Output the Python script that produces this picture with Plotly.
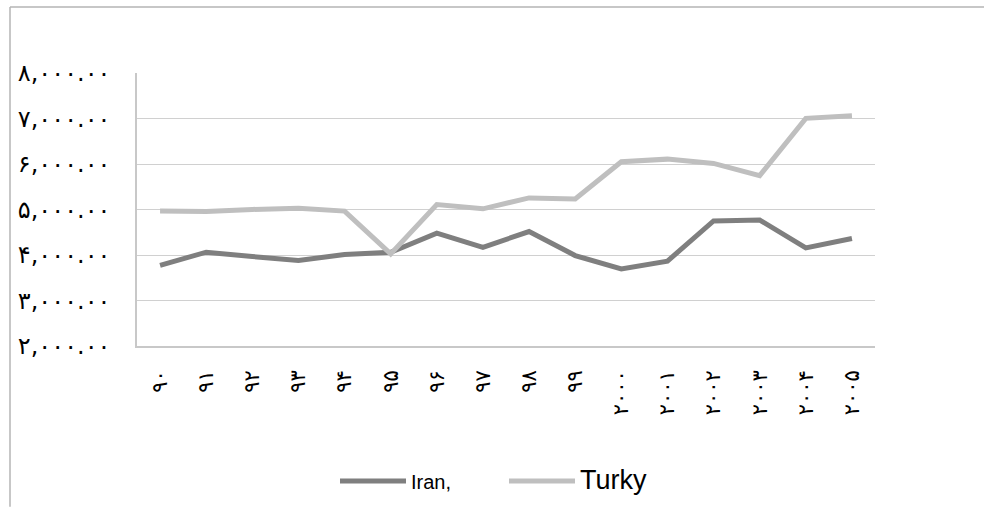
import plotly.graph_objects as go

categories = ["۹۰", "۹۱", "۹۲", "۹۳", "۹۴", "۹۵", "۹۶", "۹۷", "۹۸", "۹۹",
              "۲۰۰۰", "۲۰۰۱", "۲۰۰۲", "۲۰۰۳", "۲۰۰۴", "۲۰۰۵"]
iran = [3771, 4061, 3967, 3880, 4010, 4061, 4480, 4169, 4516, 3988,
        3692, 3865, 4748, 4769, 4155, 4364]
turky = [4965, 4957, 5001, 5030, 4965, 4025, 5109, 5015, 5254, 5232,
         6049, 6107, 6013, 5745, 7004, 7061]
y_tickvals = [2000, 3000, 4000, 5000, 6000, 7000, 8000]
y_ticktext = ["۲,۰۰۰.۰۰", "۳,۰۰۰.۰۰", "۴,۰۰۰.۰۰", "۵,۰۰۰.۰۰",
              "۶,۰۰۰.۰۰", "۷,۰۰۰.۰۰", "۸,۰۰۰.۰۰"]

fig = go.Figure()
fig.add_trace(go.Scatter(x=categories, y=iran, mode="lines",
                         name="<span style='font-size:20px'>Iran,</span>",
                         line=dict(color="#7f7f7f", width=5)))
fig.add_trace(go.Scatter(x=categories, y=turky, mode="lines",
                         name="<span style='font-size:27px'>Turky</span>",
                         line=dict(color="#bfbfbf", width=5)))

L, R, T, B = 137, 109, 73, 163
W, H = 984, 513
pw, ph = W - L - R, H - T - B

def px2paper_x(px):
    return (px - L) / pw

def px2paper_y(py):
    return (H - B - py) / ph

border = dict(color="#b5b5b5", width=1.5)
fig.add_shape(type="line", xref="paper", yref="paper",
              x0=px2paper_x(10), x1=px2paper_x(984), y0=px2paper_y(6), y1=px2paper_y(6), line=border)
fig.add_shape(type="line", xref="paper", yref="paper",
              x0=px2paper_x(10), x1=px2paper_x(10), y0=px2paper_y(6), y1=px2paper_y(513), line=border)

fig.update_layout(
    width=W, height=H,
    margin=dict(l=L, r=R, t=T, b=B),
    paper_bgcolor="white", plot_bgcolor="white",
    font=dict(family="Arial, Liberation Sans, DejaVu Sans", color="black"),
    showlegend=True,
    legend=dict(orientation="h", x=px2paper_x(335), xanchor="left", y=px2paper_y(487), yanchor="middle",
                font=dict(size=20, family="Arial, Liberation Sans"),
                itemwidth=66, entrywidth=88, entrywidthmode="pixels",
                bgcolor="rgba(0,0,0,0)"),
    xaxis=dict(type="category", tickangle=-90, showgrid=False,
               showline=True, linecolor="#c8c8c8", linewidth=1.5,
               ticks="", ticklabelstandoff=14,
               tickfont=dict(size=21, family="DejaVu Sans", color="black"),
               range=[-0.5, len(categories) - 0.5], fixedrange=True),
    yaxis=dict(range=[2000, 8000], tickvals=y_tickvals, ticktext=y_ticktext,
               showgrid=True, gridcolor="#d0d0d0", gridwidth=1.2,
               showline=True, linecolor="#c8c8c8", linewidth=1.5,
               zeroline=False, ticks="", ticklabelstandoff=20,
               tickfont=dict(size=24, family="DejaVu Sans", color="black")),
)

fig.write_html("out.html", config={"displayModeBar": False},
               post_script="document.body.style.margin='0px';")
